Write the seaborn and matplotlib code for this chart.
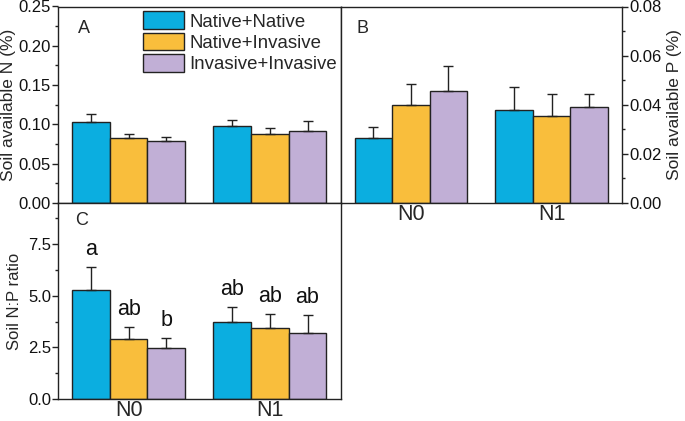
import matplotlib
matplotlib.use("Agg")
import matplotlib.pyplot as plt
from matplotlib.patches import Patch
from matplotlib.ticker import MultipleLocator
import numpy as np
import pandas as pd
import seaborn as sns

# data
nitrogen = ["N0", "N1"]
groups = ["Native+Native", "Native+Invasive", "Invasive+Invasive"]
colors = ["#0BAEE0", "#F9BE3C", "#C1AFD6"]

avail_n = [[0.103, 0.083, 0.079], [0.098, 0.088, 0.092]]
avail_n_err = [[0.010, 0.005, 0.005], [0.007, 0.008, 0.012]]

avail_p = [[0.0263, 0.0399, 0.0457], [0.0380, 0.0354, 0.0390]]
avail_p_err = [[0.0046, 0.0086, 0.0102], [0.0093, 0.0089, 0.0054]]

np_ratio = [[5.27, 2.89, 2.47], [3.75, 3.46, 3.18]]
np_ratio_err = [[1.15, 0.58, 0.50], [0.71, 0.64, 0.88]]
np_letters = [["a", "ab", "b"], ["ab", "ab", "ab"]]

sns.set_theme(style="white")
plt.rcParams["font.family"] = ["Liberation Sans", "DejaVu Sans"]
plt.rcParams["axes.edgecolor"] = "#222222"
plt.rcParams["axes.linewidth"] = 1.0


def make_df(vals, errs):
    rows = []
    for i, n in enumerate(nitrogen):
        for j, g in enumerate(groups):
            rows.append({"N": n, "group": g, "value": vals[i][j], "err": errs[i][j]})
    return pd.DataFrame(rows)


def draw(ax, vals, errs, letters=None):
    df = make_df(vals, errs)
    sns.barplot(data=df, x="N", y="value", hue="group", order=nitrogen,
                hue_order=groups, palette=colors, errorbar=None, width=0.8,
                edgecolor="#222222", linewidth=1.0, saturation=1, legend=False, ax=ax)
    bar_sets = list(ax.containers)
    for j, cont in enumerate(bar_sets):
        for i, bar in enumerate(cont.patches):
            x = bar.get_x() + bar.get_width() / 2
            h = bar.get_height()
            e = errs[i][j]
            ax.errorbar(x, h, yerr=[[0], [e]], fmt="none", ecolor="#222222",
                        elinewidth=1.0, capsize=3.5, capthick=1.0, zorder=1)
            if letters is not None:
                ax.annotate(letters[i][j], (x, h + e), xytext=(0, 5),
                            textcoords="offset points", ha="center", va="bottom",
                            fontsize=15.5, color="#111111")
    ax.set_xlim(-0.5, 1.5)
    ax.set_xlabel("")
    for s in ax.spines.values():
        s.set_visible(True)
        s.set_color("#222222")
    ax.tick_params(axis="x", length=0, labelsize=15.5, pad=0.5)
    ax.tick_params(axis="y", which="major", direction="out", length=4, width=1,
                   labelsize=12, pad=1, colors="#222222", labelcolor="#111111")
    ax.tick_params(axis="y", which="minor", direction="out", length=2.5, width=1,
                   colors="#222222")
    ax.yaxis.set_ticks_position("left")


fig = plt.figure(figsize=(6.85, 4.21), dpi=100)
L, M, R = 58 / 685, 340.5 / 685, 622 / 685
T, Mid, B = 1 - 6.5 / 421, 1 - 203 / 421, 1 - 399 / 421

axA = fig.add_axes([L, Mid, M - L, T - Mid])
axB = fig.add_axes([M, Mid, R - M, T - Mid])
axC = fig.add_axes([L, B, M - L, Mid - B])

# panel A
draw(axA, avail_n, avail_n_err)
axA.set_ylim(0, 0.25)
axA.yaxis.set_major_locator(MultipleLocator(0.05))
axA.yaxis.set_minor_locator(MultipleLocator(0.025))
axA.yaxis.set_major_formatter(matplotlib.ticker.FormatStrFormatter("%.2f"))
axA.set_xticklabels([])
axA.set_ylabel("Soil available N (%)", fontsize=12.5, labelpad=2)
axA.text(0.07, 0.89, "A", transform=axA.transAxes, fontsize=13, va="center")
handles = [Patch(facecolor=c, edgecolor="#222222", linewidth=1.0) for c in colors]
axA.legend(handles, groups, loc="upper left", bbox_to_anchor=(0.30, 0.975),
           frameon=False, fontsize=13.4, handlelength=2.2, handleheight=1.1,
           handletextpad=0.3, labelspacing=0.1, borderaxespad=0,
           borderpad=0)

# panel B
draw(axB, avail_p, avail_p_err)
axB.set_ylim(0, 0.08)
axB.yaxis.set_major_locator(MultipleLocator(0.02))
axB.yaxis.set_minor_locator(MultipleLocator(0.01))
axB.yaxis.set_major_formatter(matplotlib.ticker.FormatStrFormatter("%.2f"))
axB.yaxis.set_ticks_position("right")
axB.yaxis.set_label_position("right")
axB.set_ylabel("Soil available P (%)", fontsize=12.5, labelpad=4)
axB.text(0.057, 0.89, "B", transform=axB.transAxes, fontsize=13, va="center")

# panel C
draw(axC, np_ratio, np_ratio_err, np_letters)
axC.set_ylim(0, 9.5)
axC.yaxis.set_major_locator(MultipleLocator(2.5))
axC.yaxis.set_minor_locator(MultipleLocator(1.25))
axC.yaxis.set_major_formatter(matplotlib.ticker.FormatStrFormatter("%.1f"))
axC.set_ylabel("Soil N:P ratio", fontsize=12, labelpad=4)
axC.text(0.06, 0.91, "C", transform=axC.transAxes, fontsize=13, va="center")

fig.savefig("out.png", dpi=100)
